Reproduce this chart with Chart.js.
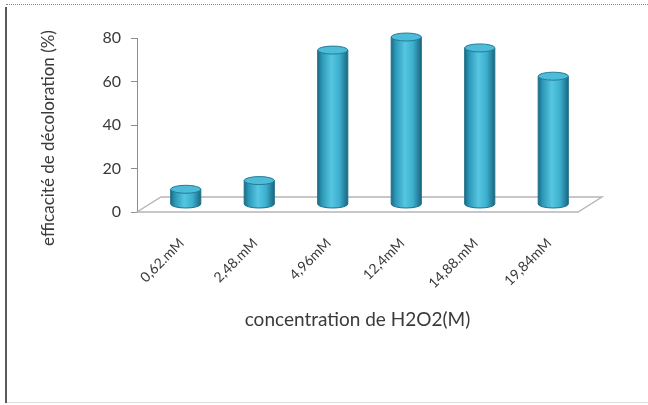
<!DOCTYPE html>
<html>
<head>
<meta charset="utf-8">
<script src="https://cdn.jsdelivr.net/npm/chart.js@4.4.1/dist/chart.umd.min.js"></script>
<style>
  html, body { margin: 0; padding: 0; background: #fff; }
  #frame { position: relative; width: 648px; height: 405px; overflow: hidden; background: #fff; }
  #frame canvas { position: absolute; left: 0; top: 0; }
  .edge-top { position: absolute; left: 6px; right: 0; top: 4px; border-top: 1px dotted #8a8a8a; }
  .edge-left { position: absolute; left: 5px; top: 7px; bottom: 2px; width: 2px; background: #5a5a5a; }
  .edge-bottom { position: absolute; left: 7px; right: 0; bottom: 2px; border-top: 1px solid #dcdcdc; }
</style>
</head>
<body>
<div id="frame">
  <div class="edge-top"></div>
  <div class="edge-left"></div>
  <div class="edge-bottom"></div>
  <canvas id="c" width="648" height="405"></canvas>
</div>
<script>
// H2O2 concentrations and the measured decolouration efficiency (%)
const categories = ['0,62.mM', '2,48.mM', '4,96mM', '12,4mM', '14,88.mM', '19,84mM'];
const efficacite = [7, 11, 71, 77, 72, 59];
const yTickValues = [0, 20, 40, 60, 80];

const yTitle = 'efficacité de décoloration (%)';
const xTitle = 'concentration de H2O2(M)';

const FONT = 'Lato, "Open Sans", "DejaVu Sans", sans-serif';
const TEXT = '#3a3a3a';

// depth of the 3D floor; columns stand half-way into it
const DEPTH = { dx: 24, dy: -15 };

const cylinders = {
  id: 'cylinders',
  beforeDatasetsDraw(chart) {
    const { ctx, chartArea, scales } = chart;
    const y0 = scales.y.getPixelForValue(0);
    const l = chartArea.left, r = chartArea.right;
    ctx.save();
    ctx.beginPath();
    ctx.moveTo(l, y0);
    ctx.lineTo(r, y0);
    ctx.lineTo(r + DEPTH.dx, y0 + DEPTH.dy);
    ctx.lineTo(l + DEPTH.dx, y0 + DEPTH.dy);
    ctx.closePath();
    ctx.fillStyle = '#ffffff';
    ctx.fill();
    ctx.strokeStyle = '#b5b5b5';
    ctx.lineWidth = 1.4;
    ctx.stroke();
    ctx.restore();
  },
  afterDatasetsDraw(chart) {
    const { ctx } = chart;
    const meta = chart.getDatasetMeta(0);
    ctx.save();
    meta.data.forEach((el) => {
      const { x, y, base, width } = el.getProps(['x', 'y', 'base', 'width'], true);
      const cx = x + DEPTH.dx / 2;
      const top = y + DEPTH.dy / 2;
      const bot = base + DEPTH.dy / 2;
      const rx = width / 2;
      const ry = 4;

      const g = ctx.createLinearGradient(cx - rx, 0, cx + rx, 0);
      g.addColorStop(0, '#1b6a83');
      g.addColorStop(0.14, '#2b97b7');
      g.addColorStop(0.45, '#56c6e1');
      g.addColorStop(0.72, '#3db0cf');
      g.addColorStop(1, '#1a6780');

      ctx.beginPath();
      ctx.moveTo(cx - rx, top);
      ctx.lineTo(cx - rx, bot);
      ctx.ellipse(cx, bot, rx, ry, 0, Math.PI, 0, true);
      ctx.lineTo(cx + rx, top);
      ctx.closePath();
      ctx.fillStyle = g;
      ctx.fill();
      ctx.strokeStyle = '#1f6f88';
      ctx.lineWidth = 1;
      ctx.stroke();

      ctx.beginPath();
      ctx.ellipse(cx, top, rx, ry, 0, 0, Math.PI * 2);
      ctx.fillStyle = '#4dbcd8';
      ctx.fill();
      ctx.strokeStyle = '#237c97';
      ctx.stroke();
    });
    ctx.restore();
  },
  afterDraw(chart) {
    const { ctx, chartArea } = chart;
    ctx.save();
    ctx.fillStyle = TEXT;
    ctx.textAlign = 'center';
    ctx.textBaseline = 'middle';
    ctx.font = '17px ' + FONT;
    ctx.translate(49, 138);
    ctx.rotate(-Math.PI / 2);
    ctx.fillText(yTitle, 0, 0);
    ctx.restore();

    ctx.save();
    ctx.fillStyle = TEXT;
    ctx.textAlign = 'center';
    ctx.textBaseline = 'middle';
    ctx.font = '19px ' + FONT;
    ctx.fillText(xTitle, (chartArea.left + chartArea.right) / 2, 320);
    ctx.restore();
  }
};

new Chart(document.getElementById('c'), {
  type: 'bar',
  data: {
    labels: categories,
    datasets: [{
      data: efficacite,
      backgroundColor: 'rgba(0,0,0,0)',
      borderWidth: 0,
      categoryPercentage: 1,
      barPercentage: 0.41
    }]
  },
  options: {
    responsive: false,
    animation: false,
    devicePixelRatio: 1,
    layout: { padding: { top: 38, right: 70, bottom: 0, left: 0 } },
    plugins: { legend: { display: false }, tooltip: { enabled: false } },
    scales: {
      x: {
        grid: { display: false },
        border: { display: false },
        ticks: {
          autoSkip: false,
          maxRotation: 45,
          minRotation: 45,
          padding: 15,
          labelOffset: 8,
          color: TEXT,
          font: { family: FONT, size: 14 }
        },
        afterFit(s) { s.height = 193; }
      },
      y: {
        min: 0,
        max: 80,
        afterBuildTicks(s) { s.ticks = yTickValues.map(v => ({ value: v })); },
        grid: { drawOnChartArea: false, drawTicks: true, tickLength: 6, color: '#8c8c8c' },
        border: { display: true, color: '#8c8c8c', width: 1 },
        ticks: { padding: 10, color: TEXT, font: { family: FONT, size: 16 } },
        afterFit(s) { s.width = 137; }
      }
    }
  },
  plugins: [cylinders]
});
</script>
</body>
</html>
